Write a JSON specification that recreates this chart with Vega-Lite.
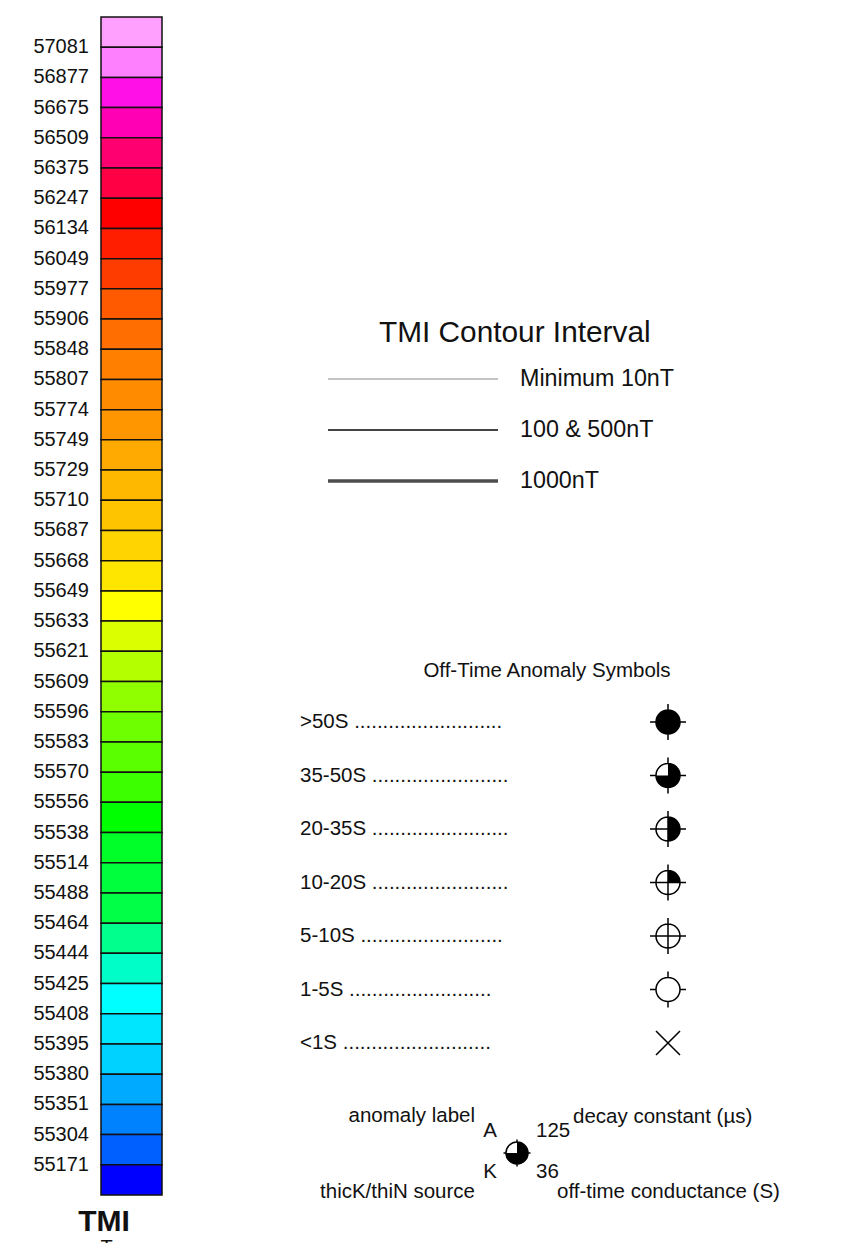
{
  "$schema": "https://vega.github.io/schema/vega-lite/v6.json",
  "width": 849,
  "height": 1243,
  "autosize": {"type": "none"},
  "padding": 0,
  "background": "white",
  "config": {
    "view": {"stroke": null},
    "font": "Liberation Sans",
    "legend": {"disable": true},
    "text": {"font": "Liberation Sans", "color": "#111111"}
  },
  "datasets": {
    "tmi_cells": [
      {"cell": 1, "lower_bound": 57081},
      {"cell": 2, "lower_bound": 56877},
      {"cell": 3, "lower_bound": 56675},
      {"cell": 4, "lower_bound": 56509},
      {"cell": 5, "lower_bound": 56375},
      {"cell": 6, "lower_bound": 56247},
      {"cell": 7, "lower_bound": 56134},
      {"cell": 8, "lower_bound": 56049},
      {"cell": 9, "lower_bound": 55977},
      {"cell": 10, "lower_bound": 55906},
      {"cell": 11, "lower_bound": 55848},
      {"cell": 12, "lower_bound": 55807},
      {"cell": 13, "lower_bound": 55774},
      {"cell": 14, "lower_bound": 55749},
      {"cell": 15, "lower_bound": 55729},
      {"cell": 16, "lower_bound": 55710},
      {"cell": 17, "lower_bound": 55687},
      {"cell": 18, "lower_bound": 55668},
      {"cell": 19, "lower_bound": 55649},
      {"cell": 20, "lower_bound": 55633},
      {"cell": 21, "lower_bound": 55621},
      {"cell": 22, "lower_bound": 55609},
      {"cell": 23, "lower_bound": 55596},
      {"cell": 24, "lower_bound": 55583},
      {"cell": 25, "lower_bound": 55570},
      {"cell": 26, "lower_bound": 55556},
      {"cell": 27, "lower_bound": 55538},
      {"cell": 28, "lower_bound": 55514},
      {"cell": 29, "lower_bound": 55488},
      {"cell": 30, "lower_bound": 55464},
      {"cell": 31, "lower_bound": 55444},
      {"cell": 32, "lower_bound": 55425},
      {"cell": 33, "lower_bound": 55408},
      {"cell": 34, "lower_bound": 55395},
      {"cell": 35, "lower_bound": 55380},
      {"cell": 36, "lower_bound": 55351},
      {"cell": 37, "lower_bound": 55304},
      {"cell": 38, "lower_bound": 55171},
      {"cell": 39, "lower_bound": null}
    ],
    "contours": [
      {"contour": "Minimum 10nT", "interval_nT": 10},
      {"contour": "100 & 500nT", "interval_nT": 100},
      {"contour": "1000nT", "interval_nT": 1000}
    ],
    "offtime": [
      {"conductance": ">50S", "entry": ">50S ..........................", "fill_part": "full", "outline": "ticks"},
      {"conductance": "35-50S", "entry": "35-50S ........................", "fill_part": "threeQuarter", "outline": "ticks"},
      {"conductance": "20-35S", "entry": "20-35S ........................", "fill_part": "half", "outline": "cross"},
      {"conductance": "10-20S", "entry": "10-20S ........................", "fill_part": "quarter", "outline": "cross"},
      {"conductance": "5-10S", "entry": "5-10S .........................", "fill_part": "none", "outline": "cross"},
      {"conductance": "1-5S", "entry": "1-5S .........................", "fill_part": "none", "outline": "ticks"},
      {"conductance": "<1S", "entry": "<1S ..........................", "fill_part": "none", "outline": "x"}
    ],
    "example": [
      {"anomaly_label": "A", "source": "K", "decay_constant_us": 125, "conductance_S": 36}
    ]
  },
  "layer": [
    {
      "data": {"name": "tmi_cells"},
      "layer": [
        {
          "mark": {"type": "rect", "stroke": "#111111", "strokeWidth": 1.5},
          "encoding": {
            "x": {"datum": "TMI", "type": "nominal", "axis": null,
                  "scale": {"type": "band", "range": [101, 162], "paddingInner": 0, "paddingOuter": 0}},
            "y": {"field": "cell", "type": "ordinal", "axis": null,
                  "scale": {"type": "band", "range": [17, 1195], "paddingInner": 0, "paddingOuter": 0}},
            "color": {"field": "cell", "type": "ordinal", "legend": null,
                      "scale": {"range": [
                        "#FFA0FF", "#FF80FF", "#FF10E6", "#FF00B4", "#FF0070", "#FF0045", "#FF0000", "#FF1E00",
                        "#FF3C00", "#FF5A00", "#FF6E00", "#FF8000", "#FF8C00", "#FF9600", "#FFAA00", "#FFB800",
                        "#FFC400", "#FFD400", "#FFE600", "#FFFF00", "#DCFF00", "#B4FF00", "#90FF00", "#6EFF00",
                        "#5AFF00", "#3CFF00", "#00FF00", "#00FF28", "#00FF3C", "#00FF46", "#00FF8C", "#00FFC8",
                        "#00FFFF", "#00E6FF", "#00D2FF", "#00AAFF", "#0082FF", "#0060FF", "#0000FF"]}}
          }
        },
        {
          "transform": [{"filter": "isValid(datum.lower_bound)"}],
          "mark": {"type": "text", "align": "right", "baseline": "middle", "dx": -12, "fontSize": 20},
          "encoding": {
            "x": {"datum": "TMI", "type": "nominal", "bandPosition": 0, "axis": null},
            "y": {"field": "cell", "type": "ordinal", "bandPosition": 1, "axis": null},
            "text": {"field": "lower_bound", "type": "quantitative", "format": "d"}
          }
        },
        {
          "data": {"values": [{"name": "TMI", "unit": "nT"}]},
          "layer": [
            {
              "mark": {"type": "text", "align": "center", "baseline": "alphabetic", "dx": 3, "dy": 36, "fontSize": 30, "fontWeight": "bold"},
              "encoding": {
                "x": {"datum": "TMI", "type": "nominal", "bandPosition": 0, "axis": null},
                "y": {"datum": 39, "type": "ordinal", "bandPosition": 1, "axis": null},
                "text": {"field": "name"}
              }
            },
            {
              "mark": {"type": "text", "align": "center", "baseline": "alphabetic", "dy": 59, "dx": 0, "fontSize": 20},
              "encoding": {
                "x": {"datum": "TMI", "type": "nominal", "bandPosition": 0, "axis": null},
                "y": {"datum": 39, "type": "ordinal", "bandPosition": 1, "axis": null},
                "text": {"field": "unit"}
              }
            }
          ]
        }
      ]
    },
    {
      "data": {"name": "contours"},
      "layer": [
        {
          "mark": {"type": "rule"},
          "encoding": {
            "x": {"datum": 0, "type": "quantitative", "axis": null, "scale": {"domain": [0, 1], "range": [328, 498]}},
            "x2": {"datum": 1},
            "y": {"field": "contour", "type": "nominal", "sort": null, "axis": null,
                  "scale": {"type": "point", "range": [379, 481], "padding": 0}},
            "strokeWidth": {"field": "interval_nT", "type": "ordinal", "legend": null,
                            "scale": {"type": "ordinal", "domain": [10, 100, 1000], "range": [1.2, 2, 3.5]}},
            "color": {"field": "interval_nT", "type": "ordinal", "legend": null,
                      "scale": {"type": "ordinal", "domain": [10, 100, 1000], "range": ["#8a8a8a", "#444444", "#4d4d4d"]}}
          }
        },
        {
          "mark": {"type": "text", "align": "left", "baseline": "middle", "dx": 22, "fontSize": 23.3},
          "encoding": {
            "x": {"datum": 1, "type": "quantitative", "axis": null},
            "y": {"field": "contour", "type": "nominal", "sort": null, "axis": null},
            "text": {"field": "contour"}
          }
        },
        {
          "data": {"values": [{"heading": "TMI Contour Interval"}]},
          "mark": {"type": "text", "align": "left", "baseline": "middle", "dx": 51, "dy": -46, "fontSize": 29.8},
          "encoding": {
            "x": {"datum": 0, "type": "quantitative", "axis": null},
            "y": {"datum": "Minimum 10nT", "type": "nominal", "axis": null},
            "text": {"field": "heading"}
          }
        }
      ]
    },
    {
      "data": {"name": "offtime"},
      "layer": [
        {
          "mark": {"type": "text", "align": "left", "baseline": "middle", "fontSize": 20.5},
          "encoding": {
            "x": {"datum": 0, "type": "quantitative", "axis": null, "scale": {"domain": [0, 1], "range": [300, 668]}},
            "y": {"field": "conductance", "type": "nominal", "sort": null, "axis": null,
                  "scale": {"type": "point", "range": [722, 1043], "padding": 0}},
            "text": {"field": "entry"}
          }
        },
        {
          "transform": [{"filter": "datum.fill_part != 'none'"}],
          "mark": {"type": "point", "filled": true, "fill": "#000000", "strokeWidth": 0, "size": 1296, "opacity": 1},
          "encoding": {
            "x": {"datum": 1, "type": "quantitative", "axis": null},
            "y": {"field": "conductance", "type": "nominal", "sort": null, "axis": null},
            "shape": {"field": "fill_part", "type": "nominal", "legend": null,
                      "scale": {"domain": ["full", "threeQuarter", "half", "quarter"],
                                "range": [
                                  "M0.667,0A0.667,0.667,0,1,1,-0.667,0A0.667,0.667,0,1,1,0.667,0Z",
                                  "M0,0L0,-0.667A0.667,0.667,0,1,1,-0.667,0Z",
                                  "M0,-0.667A0.667,0.667,0,0,1,0.667,0A0.667,0.667,0,0,1,0,0.667Z",
                                  "M0,0L0,-0.667A0.667,0.667,0,0,1,0.667,0Z"]}}
          }
        },
        {
          "mark": {"type": "point", "filled": false, "stroke": "#000000", "strokeWidth": 1.5, "size": 1296, "opacity": 1},
          "encoding": {
            "x": {"datum": 1, "type": "quantitative", "axis": null},
            "y": {"field": "conductance", "type": "nominal", "sort": null, "axis": null},
            "shape": {"field": "outline", "type": "nominal", "legend": null,
                      "scale": {"domain": ["ticks", "cross", "x"],
                                "range": [
                                  "M0.667,0A0.667,0.667,0,1,1,-0.667,0A0.667,0.667,0,1,1,0.667,0M0,-1L0,-0.667M0,0.667L0,1M-1,0L-0.667,0M0.667,0L1,0",
                                  "M0.667,0A0.667,0.667,0,1,1,-0.667,0A0.667,0.667,0,1,1,0.667,0M0,-1L0,1M-1,0L1,0",
                                  "M-0.667,-0.667L0.667,0.667M-0.667,0.667L0.667,-0.667"]}}
          }
        },
        {
          "data": {"values": [{"heading": "Off-Time Anomaly Symbols"}]},
          "mark": {"type": "text", "align": "center", "baseline": "middle", "dx": 247, "dy": -51, "fontSize": 20.5},
          "encoding": {
            "x": {"datum": 0, "type": "quantitative", "axis": null},
            "y": {"datum": ">50S", "type": "nominal", "axis": null},
            "text": {"field": "heading"}
          }
        }
      ],
      "resolve": {"scale": {"shape": "independent"}}
    },
    {
      "data": {"name": "example"},
      "encoding": {
        "x": {"datum": 0, "type": "quantitative", "axis": null, "scale": {"domain": [0, 1], "range": [517, 617]}},
        "y": {"datum": 0, "type": "quantitative", "axis": null, "scale": {"domain": [0, 1], "range": [1153, 1053]}}
      },
      "layer": [
        {"mark": {"type": "point", "filled": true, "fill": "#000000", "strokeWidth": 0, "size": 729, "opacity": 1,
                  "shape": "M0,0L0,-0.815A0.815,0.815,0,1,1,-0.815,0Z"}},
        {"mark": {"type": "point", "filled": false, "stroke": "#000000", "strokeWidth": 1.5, "size": 729, "opacity": 1,
                  "shape": "M0.815,0A0.815,0.815,0,1,1,-0.815,0A0.815,0.815,0,1,1,0.815,0M0,-1L0,-0.815M0,0.815L0,1M-1,0L-0.815,0M0.815,0L1,0"}},
        {"mark": {"type": "text", "align": "center", "baseline": "middle", "dx": -27, "dy": -22, "fontSize": 20.5},
         "encoding": {"text": {"field": "anomaly_label"}}},
        {"mark": {"type": "text", "align": "left", "baseline": "middle", "dx": 19, "dy": -22, "fontSize": 20.5},
         "encoding": {"text": {"field": "decay_constant_us", "type": "quantitative", "format": "d"}}},
        {"mark": {"type": "text", "align": "center", "baseline": "middle", "dx": -27, "dy": 19, "fontSize": 20.5},
         "encoding": {"text": {"field": "source"}}},
        {"mark": {"type": "text", "align": "left", "baseline": "middle", "dx": 19, "dy": 19, "fontSize": 20.5},
         "encoding": {"text": {"field": "conductance_S", "type": "quantitative", "format": "d"}}},
        {"mark": {"type": "text", "align": "right", "baseline": "middle", "dx": -42, "dy": -37, "fontSize": 20.5, "text": "anomaly label"}},
        {"mark": {"type": "text", "align": "left", "baseline": "middle", "dx": 56, "dy": -36, "fontSize": 20.5, "text": "decay constant (µs)"}},
        {"mark": {"type": "text", "align": "right", "baseline": "middle", "dx": -42, "dy": 39, "fontSize": 20.5, "text": "thicK/thiN source"}},
        {"mark": {"type": "text", "align": "left", "baseline": "middle", "dx": 40, "dy": 39, "fontSize": 20.5, "text": "off-time conductance (S)"}}
      ]
    }
  ],
  "resolve": {
    "scale": {"x": "independent", "y": "independent", "color": "independent", "shape": "independent", "strokeWidth": "independent"}
  }
}
